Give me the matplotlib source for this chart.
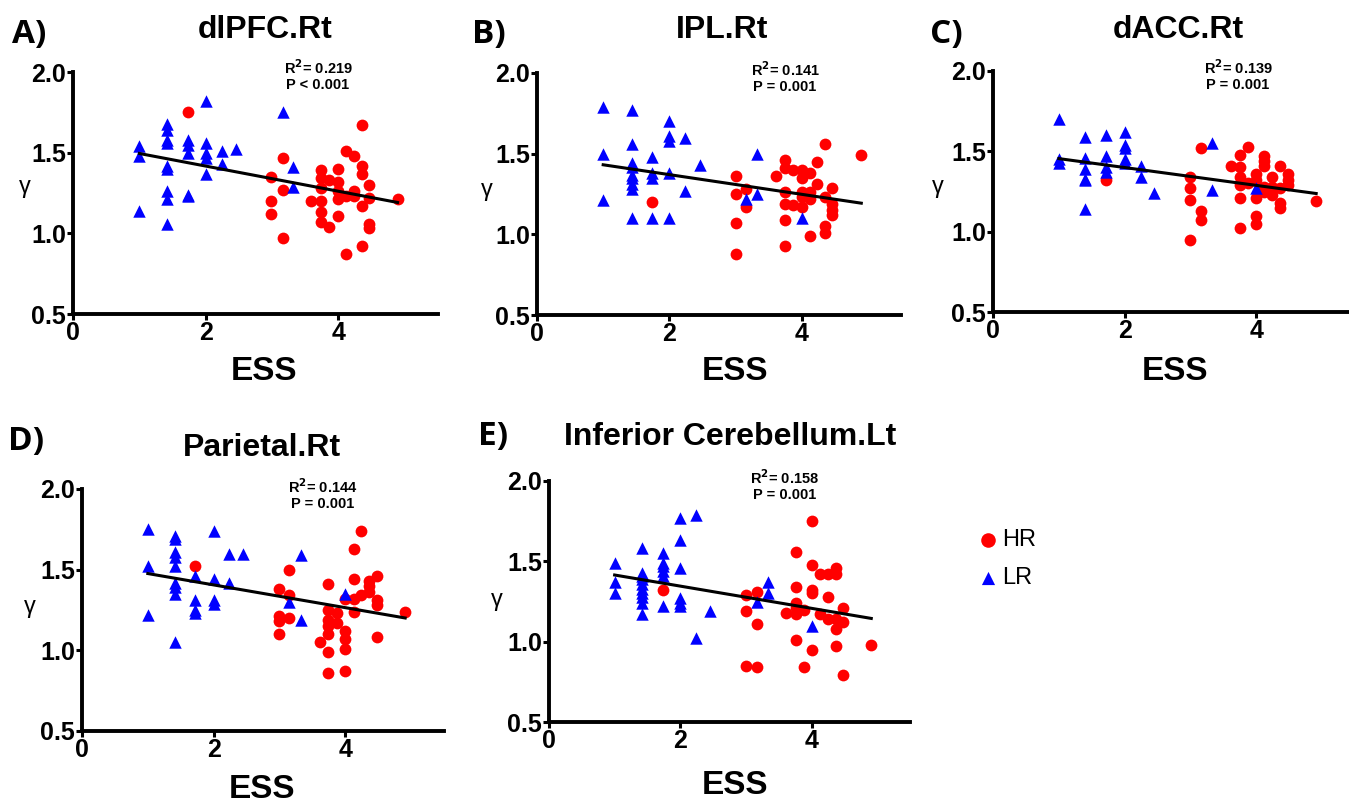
import numpy as np
import matplotlib
matplotlib.use('Agg')
import matplotlib.pyplot as plt

plt.rcParams['font.family'] = ['Liberation Sans', 'DejaVu Sans']

# ---- panel data (ESS, gamma) ----
titles = ['dlPFC.Rt', 'IPL.Rt', 'dACC.Rt', 'Parietal.Rt', 'Inferior Cerebellum.Lt']
letters = ['A)', 'B)', 'C)', 'D)', 'E)']
r2_values = ['0.219', '0.141', '0.139', '0.144', '0.158']
p_values = ['P < 0.001', 'P = 0.001', 'P = 0.001', 'P = 0.001', 'P = 0.001']

a_lr_x = [1.0, 1.0, 1.0, 1.42, 1.42, 1.42, 1.42, 1.42, 1.42, 1.42, 1.42, 1.42, 1.73, 1.73, 1.73, 1.73,
          1.73, 2.0, 2.0, 2.0, 2.0, 2.0, 2.25, 2.25, 2.45, 3.16, 3.32, 3.32]
a_lr_y = [1.54, 1.48, 1.14, 1.68, 1.64, 1.58, 1.56, 1.42, 1.40, 1.26, 1.21, 1.06, 1.58, 1.55, 1.50, 1.24,
          1.23, 1.82, 1.56, 1.50, 1.47, 1.37, 1.51, 1.43, 1.52, 1.75, 1.41, 1.29]
a_hr_x = [1.73, 2.99, 2.99, 2.99, 3.16, 3.16, 3.16, 3.59, 3.73, 3.73, 3.73, 3.73, 3.73, 3.73, 3.86, 3.86,
          4.0, 4.0, 4.0, 4.0, 4.0, 4.11, 4.11, 4.11, 4.23, 4.23, 4.23, 4.35, 4.35, 4.35, 4.35, 4.35,
          4.46, 4.46, 4.46, 4.46, 4.89]
a_hr_y = [1.75, 1.35, 1.20, 1.12, 1.47, 1.27, 0.97, 1.20, 1.39, 1.34, 1.28, 1.20, 1.13, 1.07, 1.33, 1.04,
          1.40, 1.32, 1.26, 1.21, 1.11, 1.51, 1.23, 0.87, 1.48, 1.26, 1.23, 1.67, 1.42, 1.37, 1.17, 0.92,
          1.30, 1.22, 1.06, 1.03, 1.21]

b_lr_x = [1.0, 1.0, 1.0, 1.43, 1.43, 1.43, 1.43, 1.43, 1.43, 1.43, 1.43, 1.43, 1.74, 1.74, 1.74, 1.74,
          2.0, 2.0, 2.0, 2.0, 2.0, 2.23, 2.23, 2.46, 3.16, 3.32, 3.32, 4.0]
b_lr_y = [1.79, 1.50, 1.21, 1.77, 1.56, 1.44, 1.42, 1.37, 1.35, 1.31, 1.28, 1.10, 1.48, 1.38, 1.35, 1.10,
          1.70, 1.61, 1.58, 1.38, 1.10, 1.60, 1.27, 1.43, 1.22, 1.50, 1.25, 1.10]
b_hr_x = [1.74, 3.0, 3.0, 3.0, 3.0, 3.16, 3.16, 3.61, 3.74, 3.74, 3.74, 3.74, 3.74, 3.74, 3.87, 3.87,
          4.0, 4.0, 4.0, 4.0, 4.0, 4.12, 4.12, 4.12, 4.12, 4.23, 4.23, 4.35, 4.35, 4.35, 4.35,
          4.46, 4.46, 4.46, 4.46, 4.9]
b_hr_y = [1.20, 1.36, 1.25, 1.07, 0.88, 1.28, 1.17, 1.36, 1.46, 1.41, 1.26, 1.19, 1.09, 0.93, 1.40, 1.18,
          1.40, 1.35, 1.26, 1.23, 1.17, 1.38, 1.26, 1.22, 0.99, 1.45, 1.31, 1.56, 1.23, 1.05, 1.01,
          1.29, 1.19, 1.15, 1.12, 1.49]

c_lr_x = [1.0, 1.0, 1.0, 1.40, 1.40, 1.40, 1.40, 1.40, 1.40, 1.72, 1.72, 1.72, 1.72, 2.0, 2.0, 2.0,
          2.0, 2.0, 2.25, 2.25, 2.45, 3.33, 3.33, 4.0]
c_lr_y = [1.70, 1.45, 1.43, 1.59, 1.46, 1.39, 1.33, 1.32, 1.14, 1.60, 1.47, 1.40, 1.37, 1.62, 1.54, 1.52,
          1.45, 1.43, 1.41, 1.34, 1.24, 1.55, 1.26, 1.27]
c_hr_x = [1.72, 3.0, 3.0, 3.0, 3.0, 3.16, 3.16, 3.16, 3.61, 3.75, 3.75, 3.75, 3.75, 3.75, 3.75, 3.87,
          3.87, 4.0, 4.0, 4.0, 4.0, 4.0, 4.12, 4.12, 4.12, 4.12, 4.12, 4.24, 4.24, 4.24, 4.36, 4.36,
          4.36, 4.36, 4.48, 4.48, 4.48, 4.91]
c_hr_y = [1.32, 1.34, 1.27, 1.20, 0.95, 1.52, 1.13, 1.07, 1.41, 1.48, 1.40, 1.34, 1.29, 1.21, 1.02, 1.53,
          1.30, 1.36, 1.32, 1.21, 1.10, 1.05, 1.47, 1.44, 1.41, 1.28, 1.25, 1.34, 1.28, 1.23, 1.41, 1.27,
          1.18, 1.15, 1.36, 1.32, 1.29, 1.19]

d_lr_x = [1.0, 1.0, 1.0, 1.41, 1.41, 1.41, 1.41, 1.41, 1.41, 1.41, 1.41, 1.41, 1.72, 1.72, 1.72, 1.72,
          2.0, 2.0, 2.0, 2.0, 2.24, 2.24, 2.45, 3.15, 3.32, 3.32, 4.0]
d_lr_y = [1.75, 1.52, 1.22, 1.71, 1.69, 1.61, 1.58, 1.52, 1.42, 1.39, 1.35, 1.05, 1.46, 1.31, 1.25, 1.23,
          1.74, 1.44, 1.31, 1.29, 1.60, 1.42, 1.60, 1.30, 1.59, 1.19, 1.35]
d_hr_x = [1.72, 3.0, 3.0, 3.0, 3.0, 3.15, 3.15, 3.15, 3.61, 3.74, 3.74, 3.74, 3.74, 3.74, 3.74, 3.74,
          3.87, 3.87, 4.0, 4.0, 4.0, 4.0, 4.0, 4.13, 4.13, 4.13, 4.13, 4.24, 4.24, 4.36, 4.36, 4.36,
          4.48, 4.48, 4.48, 4.48, 4.91]
d_hr_y = [1.52, 1.38, 1.21, 1.18, 1.10, 1.50, 1.34, 1.20, 1.05, 1.41, 1.25, 1.19, 1.15, 1.10, 0.99, 0.86,
          1.23, 1.17, 1.32, 1.12, 1.07, 1.01, 0.87, 1.63, 1.44, 1.32, 1.24, 1.74, 1.34, 1.43, 1.40, 1.36,
          1.46, 1.31, 1.28, 1.08, 1.24]

e_lr_x = [1.0, 1.0, 1.0, 1.41, 1.41, 1.41, 1.41, 1.41, 1.41, 1.41, 1.41, 1.41, 1.41, 1.74, 1.74, 1.74,
          1.74, 1.74, 1.74, 2.0, 2.0, 2.0, 2.0, 2.0, 2.0, 2.24, 2.24, 2.46, 3.17, 3.34, 3.34, 4.0]
e_lr_y = [1.49, 1.37, 1.30, 1.58, 1.43, 1.41, 1.39, 1.36, 1.33, 1.30, 1.28, 1.24, 1.17, 1.55, 1.49, 1.47,
          1.44, 1.41, 1.22, 1.77, 1.63, 1.46, 1.27, 1.24, 1.22, 1.79, 1.02, 1.19, 1.25, 1.37, 1.30, 1.10]
e_hr_x = [1.74, 3.0, 3.0, 3.0, 3.17, 3.17, 3.17, 3.61, 3.76, 3.76, 3.76, 3.76, 3.76, 3.76, 3.88, 3.88,
          4.0, 4.0, 4.0, 4.0, 4.0, 4.13, 4.13, 4.25, 4.25, 4.25, 4.37, 4.37, 4.37, 4.37, 4.37,
          4.48, 4.48, 4.48, 4.91]
e_hr_y = [1.32, 1.29, 1.19, 0.85, 1.31, 1.11, 0.84, 1.18, 1.56, 1.34, 1.24, 1.21, 1.17, 1.01, 1.20, 0.84,
          1.75, 1.48, 1.32, 1.30, 0.95, 1.42, 1.17, 1.42, 1.28, 1.14, 1.46, 1.42, 1.14, 1.08, 0.97,
          1.21, 1.12, 0.79, 0.98]

panels = [
    (a_lr_x, a_lr_y, a_hr_x, a_hr_y),
    (b_lr_x, b_lr_y, b_hr_x, b_hr_y),
    (c_lr_x, c_lr_y, c_hr_x, c_hr_y),
    (d_lr_x, d_lr_y, d_hr_x, d_hr_y),
    (e_lr_x, e_lr_y, e_hr_x, e_hr_y),
]

W, H = 1349, 806

# axes boxes in pixels: left, top, right, bottom
boxes = [
    (73, 72, 438, 314),
    (537, 73, 901, 315),
    (993, 71, 1355, 312),
    (82, 489, 444, 731),
    (549, 481, 910, 722),
]
# label positions in pixels: letter, title, R2, ESS, gamma
letter_pos = [(12, 35), (472, 35), (930, 35), (8, 442), (478, 437)]
title_pos = [(265, 30), (722, 30), (1178, 30), (262, 448), (730, 437)]
stat_pos = [(318, 68), (785, 70), (1238, 68), (323, 487), (785, 478)]
ess_pos = [(264, 372), (735, 372), (1175, 372), (262, 790), (735, 785)]
gamma_pos = [(25, 187), (487, 190), (938, 187), (30, 607), (497, 600)]


def fx(px):
    return px / W


def fy(py):
    return 1 - py / H


def main():
    fig = plt.figure(figsize=(W / 100, H / 100), dpi=100)

    for i, (lr_x, lr_y, hr_x, hr_y) in enumerate(panels):
        l, t, r, b = boxes[i]
        ax = fig.add_axes([fx(l), fy(b), (r - l) / W, (b - t) / H])
        ax.scatter(hr_x, hr_y, s=72, marker='o', color='#FF0000', linewidths=0, zorder=2)
        ax.scatter(lr_x, lr_y, s=80, marker='^', color='#0000FF', linewidths=0, zorder=2)

        xs = np.array(lr_x + hr_x)
        ys = np.array(lr_y + hr_y)
        k, c0 = np.polyfit(xs, ys, 1)
        xx = np.array([xs.min(), xs.max()])
        ax.plot(xx, k * xx + c0, color='black', linewidth=2.2, zorder=3)

        ax.set_xlim(0, 5.5)
        ax.set_ylim(0.5, 2.0)
        ax.set_xticks([0, 2, 4])
        ax.set_yticks([0.5, 1.0, 1.5, 2.0])
        ax.set_yticklabels(['0.5', '1.0', '1.5', '2.0'])
        for sp in ['top', 'right']:
            ax.spines[sp].set_visible(False)
        for sp in ['left', 'bottom']:
            ax.spines[sp].set_linewidth(2.8)
        ax.tick_params(width=2.2, length=4, labelsize=18, pad=1)
        for lab in ax.get_xticklabels() + ax.get_yticklabels():
            lab.set_fontweight('bold')
        ax.patch.set_alpha(0)

        fig.text(fx(letter_pos[i][0]), fy(letter_pos[i][1]), letters[i], fontsize=24,
                 fontweight='bold', family=['Open Sans', 'DejaVu Sans'], ha='left', va='center')
        fig.text(fx(title_pos[i][0]), fy(title_pos[i][1]), titles[i], fontsize=23,
                 fontweight='bold', ha='center', va='center')
        sx, sy = stat_pos[i]
        fig.text(fx(sx), fy(sy), 'R$^\\mathbf{2}$= ' + r2_values[i], fontsize=10.5,
                 fontweight='bold', ha='center', va='center')
        fig.text(fx(sx), fy(sy + 17), p_values[i], fontsize=10.5,
                 fontweight='bold', ha='center', va='center')
        fig.text(fx(ess_pos[i][0]), fy(ess_pos[i][1]), 'ESS', fontsize=24,
                 fontweight='bold', ha='center', va='center')
        fig.text(fx(gamma_pos[i][0]), fy(gamma_pos[i][1]), 'γ', fontsize=17,
                 ha='center', va='center')

    # legend
    lax = fig.add_axes([0, 0, 1, 1])
    lax.set_xlim(0, W)
    lax.set_ylim(H, 0)
    lax.axis('off')
    lax.scatter([988], [540], s=110, marker='o', color='#FF0000', linewidths=0)
    lax.scatter([988], [578], s=90, marker='^', color='#0000FF', linewidths=0)
    lax.text(1002, 540, 'HR', fontsize=17, ha='left', va='center')
    lax.text(1002, 578, 'LR', fontsize=17, ha='left', va='center')

    fig.savefig('out.png', dpi=100)


if __name__ == '__main__':
    main()
